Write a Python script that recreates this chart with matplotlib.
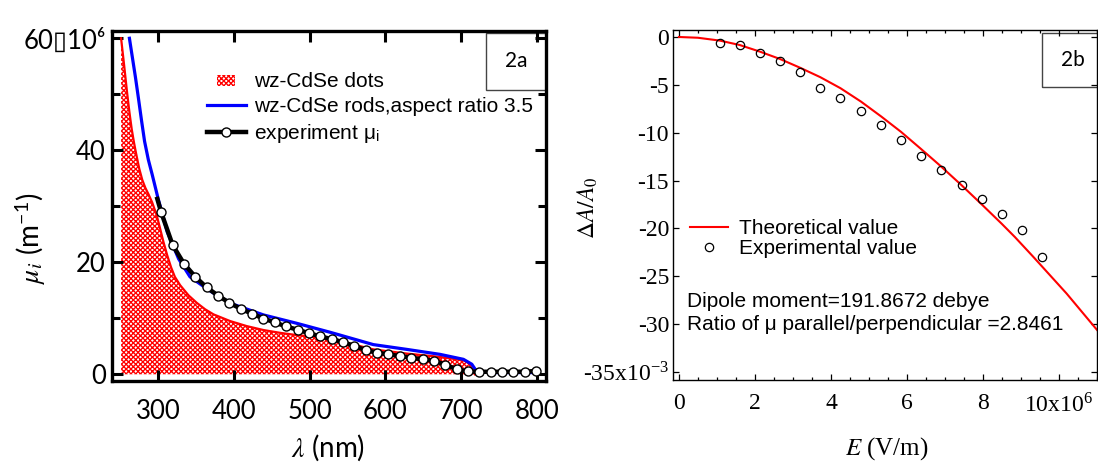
"""Recreation of the two-panel figure: absorption spectra (2a) and Stark shift fit (2b)."""

import matplotlib

matplotlib.use("Agg")
import matplotlib.pyplot as plt
from matplotlib.legend_handler import HandlerPatch
from matplotlib.lines import Line2D
from matplotlib.patches import Patch, Rectangle
from matplotlib.ticker import MultipleLocator

plt.rcParams["font.family"] = ["Lato", "DejaVu Sans"]
plt.rcParams["mathtext.fontset"] = "stix"
plt.rcParams["hatch.color"] = "red"
plt.rcParams["hatch.linewidth"] = 0.95

# ---- panel 2a: absorption coefficient mu_i (units of 1e6 m^-1) vs wavelength (nm)
dots_lambda = [251, 255, 259, 262, 265, 268, 271, 275, 279, 283, 287, 292, 298, 302,
               307, 312, 317, 322, 329, 340, 351, 362, 373, 395, 417, 439, 461, 483,
               505, 527, 549, 584, 628, 672, 703, 710, 718]
dots_mu = [60, 55.2, 50.2, 46.8, 43.8, 41.4, 39.3, 36.7, 34.7, 33.3, 32.2, 30.7, 28.4,
           26.3, 23.6, 21.2, 19.1, 17.4, 15.9, 14.1, 12.75, 11.6, 10.7, 9.5, 8.6, 7.9,
           7.4, 7.0, 6.7, 6.2, 5.6, 4.45, 3.7, 3.1, 2.5, 2.0, 0]

rods_lambda = [262, 266, 270, 274, 278, 282, 287, 292, 300, 312, 327, 342, 365, 380,
               399, 439, 483, 527, 540, 584, 628, 672, 703, 714, 720, 740, 800]
rods_mu = [60, 56.5, 53.0, 49.2, 45.3, 41.6, 38.3, 35.7, 31.3, 25.4, 20.6, 17.4, 15.2,
           13.9, 12.5, 10.6, 9.1, 7.5, 7.0, 5.3, 4.45, 3.56, 2.67, 1.8, 0.6, 0.3, 0.3]

exp_lambda = [304, 319, 334, 349, 364, 379, 394, 409, 424, 439, 454, 469, 484, 499,
              514, 529, 544, 559, 574, 589, 604, 619, 634, 649, 664, 679, 694, 709,
              724, 739, 754, 769, 784, 799]
exp_mu = [28.9, 23.1, 19.75, 17.4, 15.5, 14.06, 12.75, 11.7, 10.8, 9.96, 9.25, 8.54,
          7.95, 7.35, 6.76, 6.28, 5.75, 5.04, 4.33, 3.85, 3.56, 3.26, 2.96, 2.67,
          2.43, 1.72, 0.89, 0.5, 0.45, 0.45, 0.45, 0.45, 0.45, 0.6]
# the connecting line starts a little before the first marker
exp_line_start = (298, 31.7)

a_xticks = [300, 400, 500, 600, 700, 800]
a_yticks = [0, 20, 40, 60]
a_yticklabels = ["0", "20", "40", "60\u25af10\u2076"]
a_yminor = [10, 30, 50]

# ---- panel 2b: Delta A / A0 (units of 1e-3) vs field E (units of 1e6 V/m)
theory_E = [0, 0.5, 1.08, 1.6, 2.13, 2.66, 3.18, 3.72, 4.25, 4.79, 5.32, 5.84, 6.37,
            6.89, 7.44, 7.97, 8.49, 8.84, 9.32, 10.2, 11.0]
theory_dA = [0, -0.08, -0.38, -0.84, -1.53, -2.3, -3.2, -4.2, -5.35, -6.75, -8.3, -9.9,
             -11.7, -13.5, -15.5, -17.5, -19.5, -20.9, -22.95, -26.8, -30.6]

exp_E = [1.08, 1.6, 2.14, 2.66, 3.19, 3.72, 4.25, 4.79, 5.32, 5.84, 6.37, 6.89, 7.44,
         7.97, 8.49, 9.02, 9.54]
exp_dA = [-0.59, -0.87, -1.70, -2.5, -3.61, -5.28, -6.39, -7.78, -9.17, -10.8, -12.47,
          -13.85, -15.49, -16.9, -18.5, -20.2, -22.95]

b_xticks = [0, 2, 4, 6, 8, 10]
b_xticklabels = ["0", "2", "4", "6", "8", r"10x10$^{\mathregular{6}}$"]
b_yticks = [0, -5, -10, -15, -20, -25, -30, -35]
b_yticklabels = ["0", "-5", "-10", "-15", "-20", "-25", "-30",
                 r"-35x10$^{\mathregular{-3}}$"]

W, H = 1098, 462
fig = plt.figure(figsize=(W / 100, H / 100), dpi=100)
ax1 = fig.add_axes([112 / W, (H - 381) / H, 434 / W, 350 / H])
ax2 = fig.add_axes([672.5 / W, (H - 379.5) / H, 424.5 / W, 349.5 / H])

# ---------------- 2a
hatch = "xxxxxxx"
ax1.fill_between(dots_lambda, dots_mu, 0, facecolor="white", edgecolor="red",
                 hatch=hatch, linewidth=0)
ax1.plot(dots_lambda, dots_mu, color="red", lw=1.6)
ax1.plot(rods_lambda, rods_mu, color="#0000ff", lw=2.3)
ax1.plot([exp_line_start[0]] + exp_lambda, [exp_line_start[1]] + exp_mu,
         color="black", lw=3.2, solid_capstyle="butt")
ax1.plot(exp_lambda, exp_mu, "o", ms=6.5, mfc="white", mec="black", mew=1.0)

ax1.set_xlim(239, 812)
ax1.set_ylim(-1.2, 61.3)
ax1.set_xticks(a_xticks)
ax1.set_yticks(a_yticks, labels=a_yticklabels)
ax1.set_yticks(a_yminor, minor=True)
ax1.tick_params(which="both", direction="in", top=True, right=True, width=2.2,
                labelsize=18.5)
ax1.tick_params(which="major", length=8)
ax1.tick_params(which="minor", length=6)
ax1.tick_params(axis="y", pad=4.5)
ax1.tick_params(axis="x", pad=13)
for sp in ax1.spines.values():
    sp.set_linewidth(2.4)

ax1.set_xlabel(r"$\lambda$ (nm)", fontsize=20)
ax1.xaxis.set_label_coords(0.498, -0.146)
ax1.set_ylabel(r"$\mu_i$ (m$^{\mathregular{-1}}$)", fontsize=20)
ax1.yaxis.set_label_coords(-0.147, 0.409)

dots_proxy = Patch(facecolor="white", edgecolor="red", hatch=hatch, linewidth=0)
rods_proxy = Line2D([], [], color="#0000ff", lw=2.3)
exp_proxy = Line2D([], [], color="black", lw=3.2, marker="o", ms=6.5,
                   mfc="white", mec="black", mew=1.0)


def small_patch(legend, orig_handle, xdescent, ydescent, width, height, fontsize):
    return Rectangle((-xdescent + 0.27 * width, -ydescent + 0.05 * height),
                     0.46 * width, 0.75 * height)


ax1.legend([dots_proxy, rods_proxy, exp_proxy],
           ["wz-CdSe dots", "wz-CdSe rods,aspect ratio 3.5",
            r"experiment μ$_{\mathregular{i}}$"],
           handler_map={Patch: HandlerPatch(patch_func=small_patch)},
           loc="upper left", bbox_to_anchor=(0.219, 0.884), frameon=False,
           prop={"family": "Liberation Sans", "size": 15}, handlelength=1.85,
           handletextpad=0.4, labelspacing=0.3, borderpad=0, borderaxespad=0)

ax1.add_patch(Rectangle((0.862, 0.831), 0.138, 0.163, transform=ax1.transAxes,
                        fill=False, lw=1.0, ec="#444444"))
ax1.text(0.931, 0.913, "2a", transform=ax1.transAxes, ha="center", va="center",
         fontsize=15)

# ---------------- 2b
ax2.plot(theory_E, theory_dA, color="red", lw=1.5, label="Theoretical value")
ax2.plot(exp_E, exp_dA, "o", ms=6, mfc="none", mec="black", mew=0.9,
         label="Experimental value")

ax2.set_xlim(-0.17, 11.0)
ax2.set_ylim(-35.78, 0.73)
ax2.set_xticks(b_xticks, labels=b_xticklabels)
ax2.set_yticks(b_yticks, labels=b_yticklabels)
ax2.xaxis.set_minor_locator(MultipleLocator(0.5))
ax2.tick_params(which="both", direction="in", top=True, right=True, width=0.9,
                labelsize=17, labelfontfamily="Liberation Serif")
ax2.tick_params(which="major", length=4.5)
ax2.tick_params(which="minor", length=2.5)
ax2.tick_params(axis="y", pad=2.5)
ax2.tick_params(axis="x", pad=10)
for sp in ax2.spines.values():
    sp.set_linewidth(1.0)

ax2.set_xlabel(r"$E$ (V/m)", fontsize=18, family="Liberation Serif")
ax2.xaxis.set_label_coords(0.505, -0.16)
ax2.set_ylabel(r"$\Delta A/A_0$", fontsize=17, family="Liberation Serif")
ax2.yaxis.set_label_coords(-0.171, 0.49)

ax2.legend(loc="upper left", bbox_to_anchor=(0.041, 0.459), frameon=False,
           prop={"family": "Liberation Sans", "size": 15}, handlelength=1.85,
           handletextpad=0.5, labelspacing=0.05, borderpad=0, borderaxespad=0)

ax2.text(0.034, 0.2246, "Dipole moment=191.8672 debye", transform=ax2.transAxes,
         va="center", family="Liberation Sans", fontsize=15)
ax2.text(0.034, 0.158, "Ratio of μ parallel/perpendicular =2.8461",
         transform=ax2.transAxes, va="center", family="Liberation Sans", fontsize=15)

ax2.add_patch(Rectangle((0.870, 0.836), 0.14, 0.155, transform=ax2.transAxes,
                        fill=False, lw=1.0, ec="#444444", clip_on=False))
ax2.text(0.943, 0.914, "2b", transform=ax2.transAxes, ha="center", va="center",
         fontsize=15)

fig.savefig("out.png", dpi=100)
